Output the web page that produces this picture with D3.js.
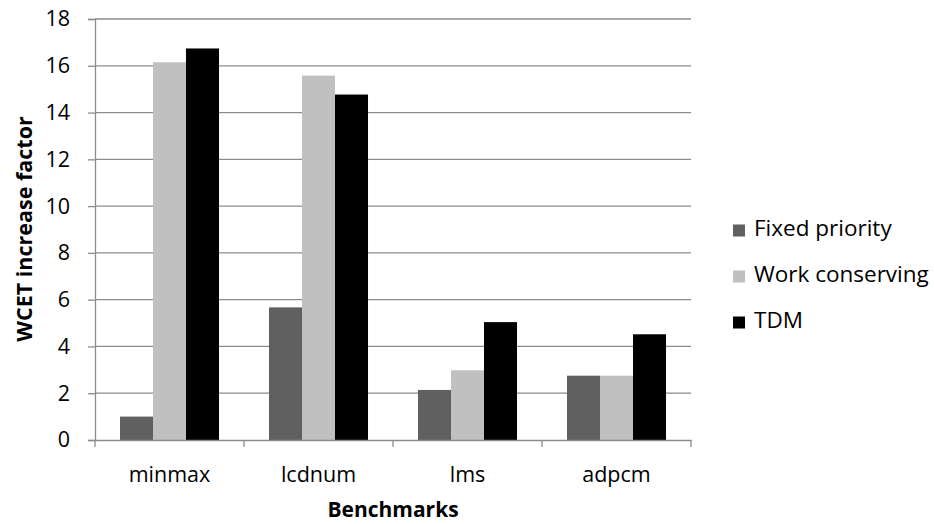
<!DOCTYPE html>
<html><head><meta charset="utf-8">
<script src="https://cdn.jsdelivr.net/npm/d3@7"></script>
<style>body{margin:0;background:#fff}svg{display:block}text{font-family:"Open Sans",sans-serif;fill:#000}</style>
</head><body><svg id="c" width="934" height="524"></svg>
<script>
const categories = ["minmax", "lcdnum", "lms", "adpcm"];
const seriesNames = ["Fixed priority", "Work conserving", "TDM"];
const fixedPriority = [1.0, 5.67, 2.14, 2.75];
const workConserving = [16.15, 15.58, 2.98, 2.75];
const tdm = [16.74, 14.77, 5.04, 4.52];
const yTicks = [0, 2, 4, 6, 8, 10, 12, 14, 16, 18];
const colors = ["#606060", "#c0c0c0", "#000000"];
const series = [fixedPriority, workConserving, tdm];

const FONT = "Open Sans";
const FS = 21.5;
const svg = d3.select("#c");
const m = {l: 95, r: 691, t: 19, b: 440};
const x = d3.scaleBand().domain(categories).range([m.l, m.r]).paddingInner(0).paddingOuter(0);
const x1 = d3.scaleBand().domain(seriesNames).range([0, x.bandwidth()]).paddingInner(0).paddingOuter(0.757);
const y = d3.scaleLinear().domain([0, 18]).range([m.b, m.t]);

// gridlines
svg.append("g").selectAll("line").data(yTicks.filter(d => d > 0)).join("line")
  .attr("x1", m.l).attr("x2", m.r).attr("y1", d => y(d)).attr("y2", d => y(d))
  .attr("stroke", "#8c8c8c").attr("stroke-width", 1.3);

// bars
const g = svg.append("g");
categories.forEach((c, i) => {
  seriesNames.forEach((s, j) => {
    g.append("rect")
      .attr("x", x(c) + x1(s)).attr("width", x1.bandwidth())
      .attr("y", y(series[j][i])).attr("height", y(0) - y(series[j][i]))
      .attr("fill", colors[j]);
  });
});

// y axis
const ya = svg.append("g").attr("transform", `translate(${m.l},0)`)
  .call(d3.axisLeft(y).tickValues(yTicks).tickSize(7).tickPadding(18));
ya.select(".domain").attr("stroke", "#8c8c8c").attr("stroke-width", 1.3);
ya.selectAll(".tick line").attr("stroke", "#8c8c8c").attr("stroke-width", 1.3);
ya.selectAll("text").attr("font-size", FS).attr("font-family", FONT).attr("fill", "#000");

// x axis
const xa = svg.append("g").attr("transform", `translate(0,${m.b})`)
  .call(d3.axisBottom(x).tickSize(0));
xa.select(".domain").attr("stroke", "#8c8c8c").attr("stroke-width", 1.3);
xa.selectAll("text").attr("font-size", FS).attr("font-family", FONT).attr("fill", "#000")
  .attr("y", 42).attr("dy", 0);
svg.append("g").selectAll("line").data(d3.range(categories.length + 1)).join("line")
  .attr("x1", i => m.l + i * x.step()).attr("x2", i => m.l + i * x.step())
  .attr("y1", m.b).attr("y2", m.b + 7).attr("stroke", "#8c8c8c").attr("stroke-width", 1.3);

// titles
svg.append("text").attr("x", (m.l + m.r) / 2).attr("y", 517).attr("text-anchor", "middle")
  .attr("font-size", 21).attr("font-weight", "bold").text("Benchmarks");
svg.append("text").attr("transform", `translate(32,229) rotate(-90)`)
  .attr("text-anchor", "middle").attr("font-size", 21.5).attr("font-weight", "bold").text("WCET increase factor");

// legend
const lg = svg.append("g");
seriesNames.forEach((s, j) => {
  const base = 236 + j * 46;
  lg.append("rect").attr("x", 733).attr("y", base - 11.5).attr("width", 12).attr("height", 12).attr("fill", colors[j]);
  lg.append("text").attr("x", 754).attr("y", base).attr("font-size", 22.5).text(s);
});
</script></body></html>
